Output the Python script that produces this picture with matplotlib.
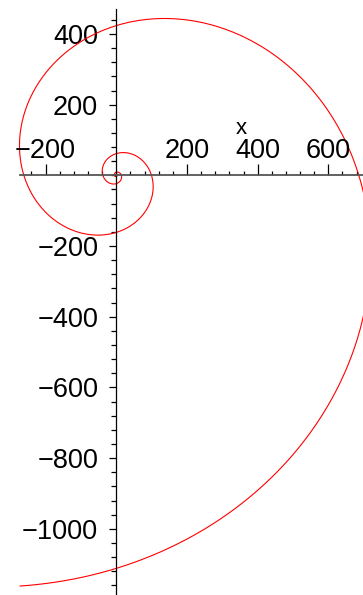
import numpy as np
import matplotlib
matplotlib.use("Agg")
import matplotlib.pyplot as plt

# golden spiral: radius on +y axis, growth per quarter turn
R_START = 61.5
GROWTH = 1.62
TURN_MIN = -4 * np.pi
TURN_MAX = 3 * np.pi + 0.23

x_major = [-200, 200, 400, 600]
y_major = [400, 200, -200, -400, -600, -800, -1000]

t = np.linspace(TURN_MIN, TURN_MAX, 3000)
r = R_START * GROWTH ** (2 * t / np.pi)
xs = r * np.sin(t)
ys = r * np.cos(t)

plt.rcParams['font.family'] = ['Liberation Sans', 'DejaVu Sans']

fig = plt.figure(figsize=(3.63, 5.95), dpi=100)
ax = fig.add_axes([0, 0, 1, 1])
ax.set_xlim(-329, 698)
ax.set_ylim(-1187, 496)

ax.plot(xs, ys, color='red', lw=0.8)

for s in ['top', 'right']:
    ax.spines[s].set_visible(False)
ax.spines['left'].set_position(('data', 0))
ax.spines['bottom'].set_position(('data', 0))
ax.spines['bottom'].set_bounds(-272, 700)
ax.spines['left'].set_bounds(-1200, 470)
ax.spines['bottom'].set_color('#555555')
ax.spines['bottom'].set_linewidth(1.3)
ax.spines['left'].set_linewidth(0.9)

ax.set_xticks(x_major)
ax.set_xticks(np.arange(-240, 700, 40), minor=True)
ax.set_yticks(y_major)
ax.set_yticks(np.arange(-1160, 470, 40), minor=True)
ax.tick_params(axis='x', which='major', direction='in', length=8, width=0.9, labelbottom=False)
ax.tick_params(axis='x', which='minor', direction='in', length=3, width=0.9)
ax.tick_params(axis='y', which='major', direction='out', length=5, width=0.9,
               labelsize=19.5, pad=8)
ax.tick_params(axis='y', which='minor', direction='out', length=3.5, width=0.9)
ax.set_yticklabels([str(v).replace('-', '\u2212') for v in y_major])
for lab in ax.get_yticklabels():
    lab.set_y(lab.get_position()[1])
    lab.set_va('center_baseline')

for v in x_major:
    ax.text(v, 48, str(v).replace('-', '\u2212'), ha='center', va='baseline', fontsize=19.5)
ax.text(354, 132, 'x', ha='center', va='center', fontsize=16)

fig.savefig('out.png', dpi=100)
